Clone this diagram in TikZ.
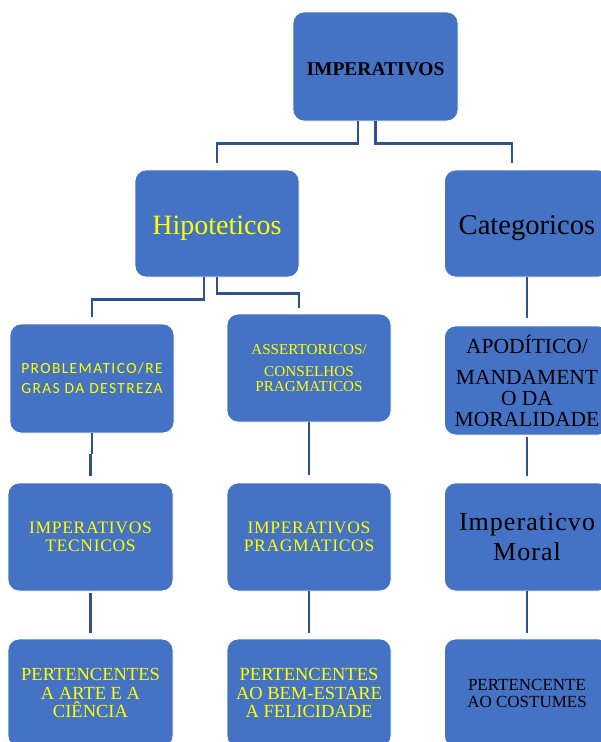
\documentclass[tikz,border=0pt]{standalone}
\usepackage{fontspec}
\setmainfont{Liberation Serif}
\newfontfamily\carl[LetterSpace=9]{Carlito}
\newfontfamily\serls[LetterSpace=4]{Liberation Serif}
\definecolor{boxblue}{HTML}{4472C4}
\definecolor{linkblue}{HTML}{2F528F}
\definecolor{ytext}{HTML}{FFFF00}
\begin{document}
\begin{tikzpicture}[x=1pt,y=-1pt,
  box/.style={draw=white, line width=0.8pt, fill=boxblue, rounded corners=11pt,
    minimum width=165pt, minimum height=108pt, inner sep=2pt, align=center},
  ylw/.style={text=ytext},
  blk/.style={text=black},
  conn/.style={draw=linkblue, line width=2.5pt},
]
\clip (0,0) rectangle (601,742);
\fill[white] (0,0) rectangle (601,742);

\node[box,blk,minimum height=109pt,text height=17pt,text depth=0pt,font={\bfseries\fontsize{19.5}{22}\selectfont}] (top) at (375.5,66.5) {IMPERATIVOS};

\node[box,ylw,minimum width=164pt,minimum height=107pt,text height=27pt,text depth=6pt,font={\fontsize{28}{32}\selectfont}] (hip) at (217,223.5) {Hipoteticos};
\node[box,blk,minimum height=107pt,text height=27pt,text depth=6pt,font={\fontsize{28.6}{32}\selectfont}] (cat) at (527,223.5) {Categoricos};

\node[box,ylw,minimum width=164pt,minimum height=109pt,font={\carl\fontsize{15.5}{20}\selectfont}] (prob) at (92,378.5) {PROBLEMATICO/RE\\GRAS DA DESTREZA};
\node[box,ylw,minimum width=164pt,font={\fontsize{15.2}{15}\selectfont}] (ass) at (309,368) {ASSERTORICOS/\\[7pt]CONSELHOS\\PRAGMATICOS};
\node[box,blk,minimum height=109pt,font={\fontsize{21.5}{21}\selectfont}] (apo) at (527,380.5) {APODÍTICO/\\[10pt]MANDAMENT\\O DA\\MORALIDADE};

\node[box,ylw,font={\serls\fontsize{17.5}{18}\selectfont}] (tec) at (90.5,537) {IMPERATIVOS\\TECNICOS};
\node[box,ylw,minimum width=164pt,font={\serls\fontsize{17.5}{18}\selectfont}] (prag) at (309,537) {IMPERATIVOS\\PRAGMATICOS};
\node[box,blk,font={\serls\fontsize{26}{30}\selectfont}] (moral) at (527,537) {Imperaticvo\\Moral};

\node[box,ylw,font={\fontsize{18.5}{18.5}\selectfont}] (b1) at (90.5,693) {PERTENCENTES\\A ARTE E A\\CIÊNCIA};
\node[box,ylw,minimum width=164pt,font={\fontsize{18.5}{18.5}\selectfont}] (b2) at (309,693) {PERTENCENTES\\AO BEM-ESTARE\\A FELICIDADE};
\node[box,blk,font={\fontsize{17}{17}\selectfont}] (b3) at (527,693) {PERTENCENTE\\AO COSTUMES};

% connectors
\draw[conn] ([xshift=-17.5pt]top.south) -- ++(0,22) -| ([yshift=7pt]hip.north);
\draw[conn] (top.south) -- ++(0,22) -| ([xshift=-15pt,yshift=7pt]cat.north);
\draw[conn] ([xshift=-13pt]hip.south) -- ++(0,22) -| ([yshift=7pt]prob.north);
\draw[conn] (hip.south) -- ++(0,16) -| ([xshift=-10pt,yshift=6pt]ass.north);
\draw[conn] (cat.south) -- ([yshift=8pt]apo.north);
\draw[conn] (prob.south) -- ++(0,21) coordinate (pj);
\draw[conn] ([xshift=-1.5pt]pj) -- ([yshift=7pt]tec.north);
\draw[conn] (ass.south) -- ([yshift=8pt]prag.north);
\draw[conn] ([yshift=-2pt]apo.south) -- ([yshift=7pt]moral.north);
\draw[conn] ([yshift=-2pt]tec.south) -- ([yshift=6pt]b1.north);
\draw[conn] (prag.south) -- ([yshift=6pt]b2.north);
\draw[conn] (moral.south) -- ([yshift=6pt]b3.north);
\end{tikzpicture}
\end{document}
